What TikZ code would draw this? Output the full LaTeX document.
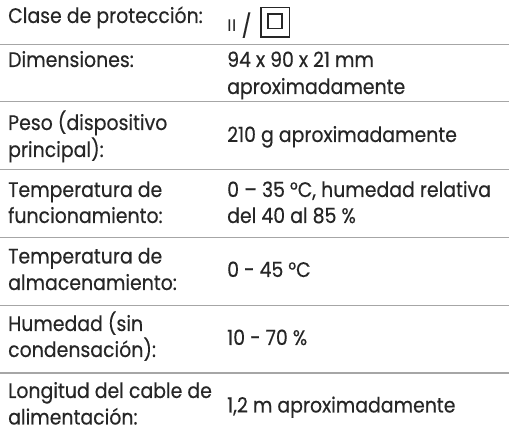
\documentclass[tikz,border=0pt]{standalone}
\usepackage{fontspec}
\setmainfont{Poppins}[FakeStretch=0.9,FakeBold=0.4]
\newfontfamily\classfont{Liberation Sans}

\begin{document}
\begin{tikzpicture}[x=1pt,y=-1pt,
    txt/.style={anchor=base west,inner sep=0pt,text=black!85,font=\fontsize{21}{26}\selectfont},
    rule/.style={draw=black!35,line width=1.2pt}]
            \useasboundingbox (0,0) rectangle (509,435);
            % rows
            \node[txt] (clase) at (8,23) {Clase de protección:};
            \node[txt] (clasev) at (227,32)
                {{\classfont\fontsize{17}{20}\selectfont II}\hspace{5pt}\raisebox{-2pt}{\fontsize{23}{24}\selectfont/}};
            \draw[black!85,line width=1.3pt] (261,7.5) rectangle (289.5,37);
            \draw[black!85,line width=1.3pt] (268,14) rectangle (282,28.5);
            \draw[rule] (0,44.5)--(509,44.5);
            \node[txt] (dim) at (8,67) {Dimensiones:};
            \node[txt] (dimv) at (227,67) {94 x 90 x 21 mm};
            \node[txt] (dimw) at (227,94) {aproximadamente};
            \draw[rule] (0,101.5)--(509,101.5);
            \node[txt] (peso) at (8,130) {Peso (dispositivo};
            \node[txt] (pesob) at (8,157) {principal):};
            \node[txt] (pesov) at (227,142) {210 g aproximadamente};
            \draw[rule] (0,169.5)--(509,169.5);
            \node[txt] (func) at (8,197) {Temperatura de};
            \node[txt] (funcb) at (8,223) {funcionamiento:};
            \node[txt] (funcv) at (227,197) {0 – 35 °C, humedad relativa};
            \node[txt] (funcw) at (227,223) {del 40 al 85 \%};
            \draw[rule] (0,237.5)--(509,237.5);
            \node[txt] (alm) at (8,263.5) {Temperatura de};
            \node[txt] (almb) at (8,290) {almacenamiento:};
            \node[txt] (almv) at (227,277) {0 - 45 °C};
            \draw[rule] (0,305.5)--(509,305.5);
            \node[txt] (hum) at (8,331) {Humedad (sin};
            \node[txt] (humb) at (8,357) {condensación):};
            \node[txt] (humv) at (227,345) {10 - 70 \%};
            \draw[rule] (0,373)--(509,373);
            \node[txt] (cable) at (8,398) {Longitud del cable de};
            \node[txt] (cableb) at (8,424.5) {alimentación:};
            \node[txt] (cablev) at (227,412.5) {1,2 m aproximadamente};
        \end{tikzpicture}
\end{document}
